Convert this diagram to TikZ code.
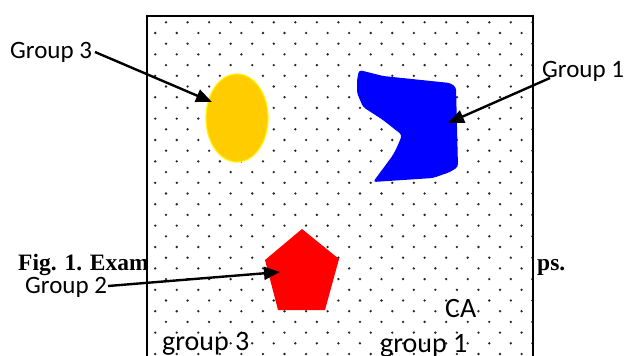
\documentclass[tikz,border=0pt]{standalone}
\usepackage{fontspec}
\setmainfont{Carlito}
\newfontfamily\capfont{Liberation Serif}
\usepackage{tikz}
\usetikzlibrary{arrows.meta, shapes.geometric}
\definecolor{grpyellow}{HTML}{FFCC00}
\definecolor{grpblue}{HTML}{0000FF}
\definecolor{grpred}{HTML}{FF0000}

\begin{document}
\begin{tikzpicture}[
    x=1pt, y=-1pt,
    >={Triangle[length=16pt, width=13pt]},
    grouplabel/.style={inner sep=0pt, anchor=base west, font=\fontsize{25}{30}\selectfont},
    arealabel/.style={inner sep=0pt, anchor=base west, font=\fontsize{28}{34}\selectfont},
    figcap/.style={inner sep=0pt, anchor=base west, font=\capfont\bfseries\fontsize{23.5}{28}\selectfont},
    pointer/.style={->, line width=2.4pt, black},
    griddot/.style={fill=black!85, draw=none}
  ]
  \useasboundingbox (0,0) rectangle (627,356);
  \clip (0,0) rectangle (627,356);

  % Caption (mostly hidden behind the area)
  \node[figcap] (capleft)  at (18,270)  {Fig. 1. Exam};
  \node[figcap] (capright) at (537,270) {ps.};

  % Dotted area
  \draw[line width=2.2pt, fill=white] (147,16) rectangle (533,380);
  \begin{scope}
    \clip (148,17) rectangle (532,380);
    \foreach \r in {0,...,32} {
      \pgfmathsetmacro\yy{22.3+10.7*\r}
      \pgfmathsetmacro\xo{166-10.8*mod(\r,2)}
      \foreach \c in {-1,...,18}
        \fill[griddot] (\xo+21.55*\c, \yy) circle (1.3pt);
    }
  \end{scope}

  % Groups
  \node[ellipse, fill=grpyellow, draw=yellow, line width=1.2pt,
        minimum width=62pt, minimum height=88pt, inner sep=0pt] (g3shape) at (237,118) {};
  \fill[grpblue, rounded corners=3pt]
    (359,70) -- (383,76) -- (450,83) -- (456,87) -- (458,167) -- (450,172)
    -- (433,178) -- (373,182) -- (382,170) -- (393,155) -- (398,145)
    -- (402,135) -- (383,120) -- (363,107) -- (357,93) -- (357,80) -- cycle;
  \fill[grpred] (302,229) -- (339,259) -- (325,310) -- (278,310) -- (265,260) -- cycle;

  % Labels
  \node[grouplabel] (lab3) at (10,58)  {Group 3};
  \node[grouplabel] (lab1) at (542,77) {Group 1};
  \node[grouplabel] (lab2) at (25,293) {Group 2};
  \node[arealabel] (ca)     at (445,317) {CA};
  \node[arealabel] (area3)  at (162,350) {group 3};
  \node[arealabel] (area1)  at (380,352) {group 1};

  % Arrow ends
  \coordinate (tail3) at (95,52);
  \coordinate (tip3)  at (212,102);
  \coordinate (tail1) at (550,78);
  \coordinate (tip1)  at (448,123);
  \coordinate (tail2) at (108,286);
  \coordinate (tip2)  at (280,272);

  % Pointers
  \draw[pointer] (tail3) -- (tip3);
  \draw[pointer] (tail1) -- (tip1);
  \draw[pointer] (tail2) -- (tip2);
\end{tikzpicture}
\end{document}
